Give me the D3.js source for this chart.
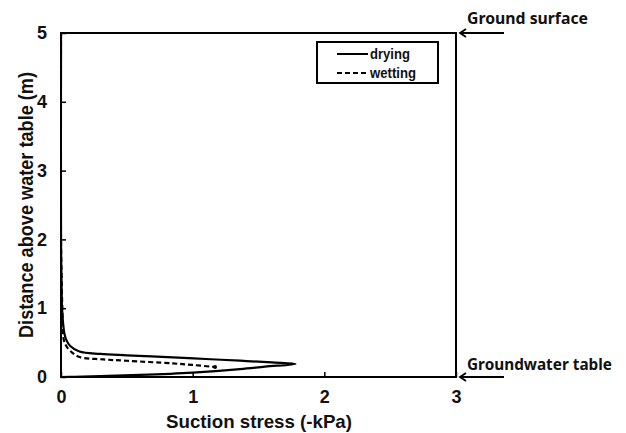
<!DOCTYPE html>
<html>
<head>
<meta charset="utf-8">
<script src="https://cdn.jsdelivr.net/npm/d3@7"></script>
<style>
  html, body { margin: 0; padding: 0; background: #fff; }
  svg { display: block; }
</style>
</head>
<body>
<svg id="chart" width="626" height="433"></svg>
<script>
// ---- data ----
const xTicks = [0, 1, 2, 3];
const yTicks = [0, 1, 2, 3, 4, 5];
const dryingX = [0, 0, 0.003, 0.008, 0.015, 0.025, 0.04, 0.07, 0.14, 0.3, 0.5, 0.85, 1.1, 1.36, 1.6, 1.78, 1.55, 1.36, 1.0, 0.6, 0.3, 0.1, 0];
const dryingY = [5.0, 2.0, 1.5, 1.0, 0.8, 0.64, 0.54, 0.45, 0.37, 0.335, 0.315, 0.285, 0.262, 0.237, 0.212, 0.19, 0.15, 0.115, 0.065, 0.03, 0.012, 0.003, 0];
const wettingX = [0, 0, 0.004, 0.01, 0.02, 0.04, 0.07, 0.14, 0.3, 0.5, 0.85, 1.0, 1.17];
const wettingY = [5.0, 2.0, 1.5, 1.0, 0.55, 0.45, 0.38, 0.29, 0.258, 0.236, 0.197, 0.175, 0.145];
const seriesNames = ["drying", "wetting"];
const xTitle = "Suction stress (-kPa)";
const yTitle = "Distance above water table (m)";
const annotTop = "Ground surface";
const annotBottom = "Groundwater table";

// ---- layout ----
const svg = d3.select("#chart");
const L = 61, R = 456, T = 33, B = 377;
const x = d3.scaleLinear().domain([0, 3]).range([L, R]);
const y = d3.scaleLinear().domain([0, 5]).range([B, T]);
const font = "'Liberation Sans', Arial, sans-serif";

const defs = svg.append("defs");
defs.append("clipPath").attr("id", "clip").append("rect")
  .attr("x", L).attr("y", T).attr("width", R - L).attr("height", B - T);

// axes with inward ticks
const xAxis = svg.append("g").attr("transform", `translate(0,${B})`)
  .call(d3.axisBottom(x).tickValues(xTicks).tickFormat(d3.format("d")).tickSizeInner(-5).tickSizeOuter(0).tickPadding(13));
const yAxis = svg.append("g").attr("transform", `translate(${L},0)`)
  .call(d3.axisLeft(y).tickValues(yTicks).tickFormat(d3.format("d")).tickSizeInner(-5).tickSizeOuter(0).tickPadding(14));
[xAxis, yAxis].forEach(a => {
  a.select(".domain").remove();
  a.selectAll(".tick line").attr("stroke", "#000").attr("stroke-width", 1.5);
  a.selectAll(".tick text").attr("font-family", font).attr("font-weight", "bold")
    .attr("font-size", 18).attr("fill", "#111");
});

// frame
svg.append("rect").attr("x", L).attr("y", T).attr("width", R - L).attr("height", B - T)
  .attr("fill", "none").attr("stroke", "#000").attr("stroke-width", 2);

// lines
const lineC = d3.line().x(d => x(d[0])).y(d => y(d[1])).curve(d3.curveCatmullRom.alpha(0.5));
const dry = dryingX.map((v, i) => [v, dryingY[i]]);
const wet = wettingX.map((v, i) => [v, wettingY[i]]);
const g = svg.append("g").attr("clip-path", "url(#clip)");
g.append("path").attr("d", lineC(dry)).attr("fill", "none").attr("stroke", "#000").attr("stroke-width", 2.2);
g.append("path").attr("d", lineC(wet)).attr("fill", "none").attr("stroke", "#000").attr("stroke-width", 2.2)
  .attr("stroke-dasharray", "5,3");
g.append("circle").attr("cx", x(wettingX[wettingX.length - 1])).attr("cy", y(wettingY[wettingY.length - 1]))
  .attr("r", 2).attr("fill", "#000");

// legend
const lg = svg.append("g");
lg.append("rect").attr("x", 317).attr("y", 42).attr("width", 121).attr("height", 41)
  .attr("fill", "#fff").attr("stroke", "#000").attr("stroke-width", 2);
seriesNames.forEach((name, i) => {
  const yy = 54 + i * 19;
  lg.append("line").attr("x1", 337).attr("x2", 368).attr("y1", yy).attr("y2", yy)
    .attr("stroke", "#000").attr("stroke-width", 2)
    .attr("stroke-dasharray", i === 1 ? "5,3" : null);
  lg.append("text").attr("x", 370).attr("y", yy + 5).text(name)
    .attr("font-family", font).attr("font-weight", "bold").attr("font-size", 15).attr("fill", "#111")
    .attr("textLength", i === 0 ? 40 : 46).attr("lengthAdjust", "spacingAndGlyphs");
});

// axis titles
svg.append("text").attr("x", 259).attr("y", 428).attr("text-anchor", "middle")
  .attr("font-family", font).attr("font-weight", "bold").attr("font-size", 19).attr("fill", "#111")
  .attr("textLength", 186).attr("lengthAdjust", "spacingAndGlyphs")
  .text(xTitle);
svg.append("text").attr("transform", `translate(33,${(T + B) / 2}) rotate(-90)`).attr("text-anchor", "middle")
  .attr("font-family", font).attr("font-weight", "bold").attr("font-size", 19.5).attr("fill", "#111")
  .attr("textLength", 266).attr("lengthAdjust", "spacingAndGlyphs")
  .text(yTitle);

// annotations with arrows
const afont = "'Noto Sans', 'Open Sans', sans-serif";
function arrow(yy) {
  svg.append("line").attr("x1", 460).attr("x2", 504).attr("y1", yy).attr("y2", yy)
    .attr("stroke", "#000").attr("stroke-width", 2);
  svg.append("path").attr("d", `M466,${yy - 4} L460,${yy} L466,${yy + 4}`)
    .attr("fill", "none").attr("stroke", "#000").attr("stroke-width", 1.8);
}
arrow(y(5));
arrow(y(0));
svg.append("text").attr("x", 467).attr("y", 24).text(annotTop)
  .attr("font-family", afont).attr("font-weight", "bold").attr("font-size", 16).attr("fill", "#111")
  .attr("textLength", 121).attr("lengthAdjust", "spacingAndGlyphs");
svg.append("text").attr("x", 467).attr("y", 370).text(annotBottom)
  .attr("font-family", afont).attr("font-weight", "bold").attr("font-size", 16).attr("fill", "#111")
  .attr("textLength", 145).attr("lengthAdjust", "spacingAndGlyphs");
</script>
</body>
</html>
